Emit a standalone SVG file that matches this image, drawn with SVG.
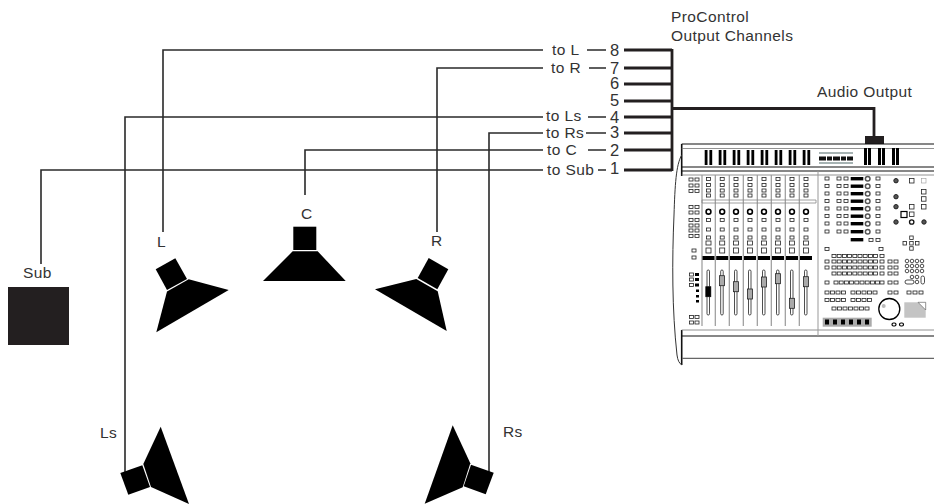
<svg xmlns="http://www.w3.org/2000/svg" xmlns:xlink="http://www.w3.org/1999/xlink" width="934" height="504" viewBox="0 0 934 504">
<style>
text{font-family:"Liberation Sans",Arial,sans-serif;font-size:15.5px;letter-spacing:.4px;fill:#333}
text.n{font-size:16.5px;letter-spacing:0}
.w{stroke:#2a2a2a;stroke-width:1.6;fill:none}
.t{stroke:#231f20;stroke-width:2.8;fill:none}
.sp{fill:#000}
.b{fill:none;stroke:#222;stroke-width:.8}
.bk{fill:none;stroke:#000;stroke-width:1.2}
.lt{fill:none;stroke:#999;stroke-width:.6}
.g{stroke:#999;stroke-width:1.2;fill:none}
.k{fill:#000}
.kd{fill:#555;stroke:#222;stroke-width:1}
</style>
<defs>
<rect id="q" width="4" height="3" class="b"/>
<g id="bars"><rect width="2.8" height="15" class="k"/><rect x="4.7" width="2.8" height="15" class="k"/></g>
<g id="barsr"><rect width="3" height="17" class="k"/><rect x="4" width="3" height="17" class="k"/></g>
<g id="r9"><use href="#q"/><use href="#q" x="5.2"/><use href="#q" x="10.4"/><use href="#q" x="15.6"/><use href="#q" x="20.8"/><use href="#q" x="26"/><use href="#q" x="31.2"/><use href="#q" x="36.4"/><use href="#q" x="41.6"/></g>
<g id="strip">
<use href="#q" x="5" y="177.5"/><use href="#q" x="5" y="183.5"/><use href="#q" x="5" y="189"/><use href="#q" x="5" y="194"/>
<circle cx="7" cy="211.7" r="2.4" fill="none" stroke="#000" stroke-width="1.6"/>
<use href="#q" x="5" y="218.5"/><use href="#q" x="5" y="228"/><use href="#q" x="5" y="236"/>
<rect x="4.5" y="241" width="5" height="4" class="b"/><rect x="4.5" y="248" width="5" height="5" class="b"/>
<rect x="1" y="256" width="12" height="4" class="k"/>
<rect x="5.5" y="270" width="2.5" height="45" rx="1.2" class="b"/>
</g>
<g id="rrow"><use href="#q" x="825"/><use href="#q" x="837"/><use href="#q" x="844"/><rect x="850.7" width="12.6" height="3.4" class="k"/><circle cx="867.7" cy="1.7" r="2.3" fill="none" stroke="#555" stroke-width="1.5"/><use href="#q" x="876"/></g>
<g id="cap"><rect x="-2.5" y="-5" width="5" height="10" fill="#aaa" stroke="#222" stroke-width=".8"/></g>
</defs>

<g id="connectors">
<path class="w" d="M163 232V50H543M437 232V68H543M125 473V117H543M489 473V133H543M305 195V150H543M41 264V170H543"/>
<path class="w" d="M587 50H606M589 68H606M588 117H606M586 133H606M588 150H606M598 170H606"/>
<path class="t" d="M624 50H672M624 68H672M624 84H672M624 101H672M624 117H672M624 133H672M624 150H672M624 170H672M672 49V171M672 108.500H874V137"/>
<rect x="865" y="136" width="19" height="8" fill="#231f20"/>
</g>

<g id="labels">
<text x="552" y="55">to L</text><text x="551" y="73">to R</text><text x="546" y="121">to Ls</text><text x="546" y="138">to Rs</text><text x="547" y="155">to C</text><text x="547" y="175">to Sub</text>
<text class="n" x="610" y="56">8</text><text class="n" x="610" y="74">7</text><text class="n" x="610" y="89">6</text><text class="n" x="610" y="106">5</text><text class="n" x="610" y="123">4</text><text class="n" x="610" y="138">3</text><text class="n" x="610" y="156">2</text><text class="n" x="610" y="174">1</text>
<text x="671" y="22">ProControl</text><text x="671" y="41">Output Channels</text><text x="817" y="97">Audio Output</text>
</g>

<g id="sub"><rect x="8" y="287" width="61" height="58" fill="#231f20"/><text x="23" y="278">Sub</text></g>
<g id="spk-l"><polygon class="sp" points="155.700,269.300 175.300,258.300 187,279 167,290"/><polygon class="sp" points="188.700,279.300 228.700,290 156.300,332.300 167,291.500"/><text x="157" y="247">L</text></g>
<g id="spk-c"><rect class="sp" x="293.300" y="226.700" width="23" height="23.300"/><polygon class="sp" points="292.700,251.300 317.700,251.300 345.700,281 263,281"/><text x="301" y="219">C</text></g>
<g id="spk-r"><polygon class="sp" points="428.700,258 448.300,269.300 437.300,289.300 417.700,278"/><polygon class="sp" points="416.300,279 437.700,291.300 446.700,331 375,289.300"/><text x="431" y="246">R</text></g>
<g id="spk-ls"><polygon class="sp" points="120.300,473 142.300,465.300 150,487 128.300,494.700"/><polygon class="sp" points="160.700,426.700 189,504 151,487 143.300,464"/><text x="100" y="438">Ls</text></g>
<g id="spk-rs"><polygon class="sp" points="471,464.700 493.700,472.700 485.700,494.300 463.700,486.300"/><polygon class="sp" points="452.700,425.300 470.300,463.300 462.700,487.300 424.700,503.700"/><text x="503" y="437">Rs</text></g>

<g id="console">
<path d="M681.700 144V176M681.700 330V365" stroke="#111" stroke-width="1.600" fill="none"/>
<path d="M681.700 155C676 165 675 185 674 215C672 260 672 310 677 355Q678 363 682 365" fill="none" stroke="#333" stroke-width="1"/>
<path d="M681.700 144H934M681.700 167H934M681.700 171H934M681.700 336H934" stroke="#111" stroke-width="1.200" fill="none"/>
<path d="M681.700 148.500H934M681.700 175H934M681.700 330H934" stroke="#777" stroke-width=".8" fill="none"/>
<path d="M682 358.300H934" stroke="#666" stroke-width="1.300"/>
<path d="M818 171V336" stroke="#999" stroke-width="1"/>
<g id="keys"><use href="#bars" x="704.700" y="150"/><use href="#bars" x="718.700" y="150"/><use href="#bars" x="732.700" y="150"/><use href="#bars" x="746.700" y="150"/><use href="#bars" x="760.700" y="150"/><use href="#bars" x="774.700" y="150"/><use href="#bars" x="788.700" y="150"/><use href="#bars" x="802.700" y="150"/>
<use href="#barsr" x="864" y="148"/><use href="#barsr" x="878" y="148"/><use href="#barsr" x="892" y="148"/>
<path d="M819 153H853M819 163H853" stroke="#8a9a9a" stroke-width="1.500"/><path d="M819 158.500H853" stroke="#111" stroke-width="4" stroke-dasharray="7 1 5 1"/></g>
<path d="M702 175V326M715.300 175V326M729.300 175V326M743.300 175V326M757.300 175V326M771.300 175V326M785.300 175V326M799.300 175V326" class="g"/>
<path d="M702 200H816V203H702Z" fill="none" stroke="#888" stroke-width=".8"/>
<g id="channels">
<use href="#strip" x="701.500"/><use href="#strip" x="715.200"/><use href="#strip" x="729"/><use href="#strip" x="743"/><use href="#strip" x="757"/><use href="#strip" x="771"/><use href="#strip" x="785"/><use href="#strip" x="799"/>
</g>
<use href="#cap" x="708.300" y="291.700"/><use href="#cap" x="722" y="280.700"/><use href="#cap" x="736" y="286.700"/><use href="#cap" x="750" y="294"/><use href="#cap" x="764" y="282"/><use href="#cap" x="778" y="278.700"/><use href="#cap" x="792" y="303.300"/><use href="#cap" x="806" y="281.700"/>
<rect x="705.800" y="286.700" width="5" height="10" class="k"/>
<g id="left-col">
<use href="#q" x="689" y="178"/><use href="#q" x="695" y="178"/><use href="#q" x="689" y="184"/><use href="#q" x="695" y="184"/><use href="#q" x="689" y="189.500"/><use href="#q" x="695" y="189.500"/>
<use href="#q" x="689" y="205.500"/><use href="#q" x="695" y="205.500"/><use href="#q" x="689" y="211"/><use href="#q" x="695" y="211"/>
<use href="#q" x="689" y="218.500"/><use href="#q" x="695" y="218.500"/><use href="#q" x="689" y="224"/><use href="#q" x="695" y="224"/><use href="#q" x="689" y="229"/><use href="#q" x="695" y="229"/><use href="#q" x="689" y="234.500"/><use href="#q" x="695" y="234.500"/>
<use href="#q" x="692" y="249"/><use href="#q" x="692" y="256"/>
<use href="#q" x="689.500" y="273"/><rect x="695" y="273" width="4" height="3" class="k"/><use href="#q" x="689.500" y="278"/><rect x="695" y="278" width="4" height="3" class="k"/><use href="#q" x="689.500" y="283.500"/><rect x="695" y="283.500" width="4" height="3" class="k"/><rect x="696" y="289.500" width="3" height="2.500" class="k"/><rect x="696" y="295" width="3" height="2.500" class="k"/><rect x="696" y="300" width="3" height="2.500" class="k"/>
<use href="#q" x="689.500" y="315.500"/><use href="#q" x="695" y="315.500"/><use href="#q" x="689.500" y="321"/><use href="#q" x="695" y="321"/>
</g>
<g id="right-section">
<use href="#rrow" y="177"/><use href="#rrow" y="184.500"/><use href="#rrow" y="192"/><use href="#rrow" y="199.500"/><use href="#rrow" y="207"/><use href="#rrow" y="214.500"/><use href="#rrow" y="222"/><use href="#rrow" y="230"/>
<rect x="850.700" y="238" width="12.600" height="3.400" class="k"/><use href="#q" x="869" y="238.500"/><use href="#q" x="876" y="238.500"/>
<use href="#q" x="825" y="247.500"/><use href="#q" x="879" y="247.500"/>
<use href="#r9" x="832" y="254.500"/><use href="#q" x="880" y="254.500"/>
<use href="#q" x="825" y="260"/><use href="#r9" x="832" y="260"/><use href="#q" x="880" y="260"/><use href="#q" x="888" y="260"/><use href="#q" x="894" y="260"/>
<use href="#q" x="825" y="266"/><use href="#r9" x="832" y="266"/><use href="#q" x="880" y="266"/><use href="#q" x="888" y="266"/><use href="#q" x="894" y="266"/>
<use href="#r9" x="832" y="272"/><use href="#q" x="880" y="272"/><use href="#q" x="888" y="272"/><use href="#q" x="894" y="272"/>
<use href="#q" x="825" y="281"/><use href="#r9" x="834" y="281"/><use href="#q" x="880" y="281"/><use href="#q" x="888" y="281"/><use href="#q" x="894" y="281"/>
<use href="#q" x="825" y="291"/><use href="#q" x="830.500" y="291"/><use href="#q" x="836" y="291"/><use href="#q" x="841.500" y="291"/><use href="#q" x="851" y="291"/><use href="#q" x="856.500" y="291"/><use href="#q" x="862" y="291"/><use href="#q" x="867.500" y="291"/><use href="#q" x="873" y="291"/><use href="#q" x="888" y="291"/><use href="#q" x="894" y="291"/><use href="#q" x="907" y="291"/><use href="#q" x="913" y="291"/><use href="#q" x="919" y="291"/>
<use href="#q" x="825" y="298.500"/><use href="#q" x="830.500" y="298.500"/><use href="#q" x="836" y="298.500"/><use href="#q" x="841.500" y="298.500"/><use href="#q" x="851" y="298.500"/><use href="#q" x="856.500" y="298.500"/><use href="#q" x="862" y="298.500"/><use href="#q" x="867.500" y="298.500"/>
<use href="#q" x="832" y="307"/><use href="#q" x="837.500" y="307"/><use href="#q" x="843" y="307"/><use href="#q" x="848.500" y="307"/><use href="#q" x="854" y="307"/><use href="#q" x="859.500" y="307"/><use href="#q" x="865" y="307"/>
<g fill="none" stroke="#222" stroke-width=".8"><circle cx="907" cy="261" r="1.800"/><circle cx="912" cy="261" r="1.800"/><circle cx="917" cy="261" r="1.800"/><circle cx="922" cy="261" r="1.800"/><circle cx="907" cy="266" r="1.800"/><circle cx="912" cy="266" r="1.800"/><circle cx="917" cy="266" r="1.800"/><circle cx="922" cy="266" r="1.800"/><circle cx="907" cy="271" r="1.800"/><circle cx="912" cy="271" r="1.800"/><circle cx="917" cy="271" r="1.800"/><circle cx="922" cy="271" r="1.800"/><circle cx="912" cy="277" r="1.800"/><circle cx="917" cy="277" r="1.800"/><rect x="905" y="280" width="9" height="4" rx="2"/><circle cx="917" cy="282" r="1.800"/><rect x="921" y="276" width="3.500" height="8" rx="1.700"/></g>
<circle cx="889.300" cy="309" r="10.500" fill="none" stroke="#000" stroke-width="1.300"/><circle cx="883.700" cy="306" r="2" fill="#bbb"/>
<rect x="904.300" y="302.300" width="21.400" height="15.400" fill="#c4c4c4"/><polygon points="918,302.300 925.700,302.300 925.700,310" fill="#fff" stroke="#555" stroke-width=".6"/>
<rect x="822.700" y="317.700" width="49" height="9" fill="#aaa"/>
<g class="k"><rect x="825" y="319.500" width="4" height="5"/><rect x="833" y="319.500" width="4" height="5"/><rect x="841" y="319.500" width="4" height="5"/><rect x="849" y="319.500" width="4" height="5"/><rect x="857" y="319.500" width="4" height="5"/><rect x="865" y="319.500" width="4" height="5"/></g>
<rect x="892" y="323" width="4" height="3" rx="1.500" class="bk"/><rect x="899.500" y="323" width="4" height="3" rx="1.500" class="bk"/>
<circle cx="896" cy="180.700" r="2.200" class="kd"/><circle cx="896" cy="196.700" r="2.200" class="kd"/><circle cx="896" cy="206.700" r="2.200" class="kd"/><circle cx="896" cy="222" r="2.200" class="kd"/><circle cx="911.700" cy="222" r="2.200" fill="none" stroke="#111" stroke-width="1.300"/><circle cx="924" cy="222" r="2.200" class="kd"/>
<rect x="909.500" y="178.500" width="4.500" height="4.500" class="b"/><rect x="921.500" y="178.500" width="4.500" height="4.500" class="lt"/><rect x="921.500" y="189.500" width="4.500" height="4.500" class="b"/><rect x="921.500" y="196.700" width="4.500" height="4.500" class="b"/><rect x="909.500" y="204.500" width="4.500" height="4.500" class="b"/><rect x="921.500" y="204.500" width="4.500" height="4.500" class="b"/><rect x="901" y="211.500" width="6" height="6" class="bk"/><rect x="909.500" y="212" width="4.500" height="4.500" class="b"/>
<rect x="909.700" y="236" width="3.500" height="3.500" class="b"/><rect x="903" y="241.500" width="3.500" height="3.500" class="b"/><rect x="909.700" y="241.500" width="3.500" height="3.500" class="b"/><rect x="915.500" y="241.500" width="3.500" height="3.500" class="b"/><rect x="909.700" y="246.700" width="3.500" height="3.500" class="b"/>
</g>
</g>
</svg>
